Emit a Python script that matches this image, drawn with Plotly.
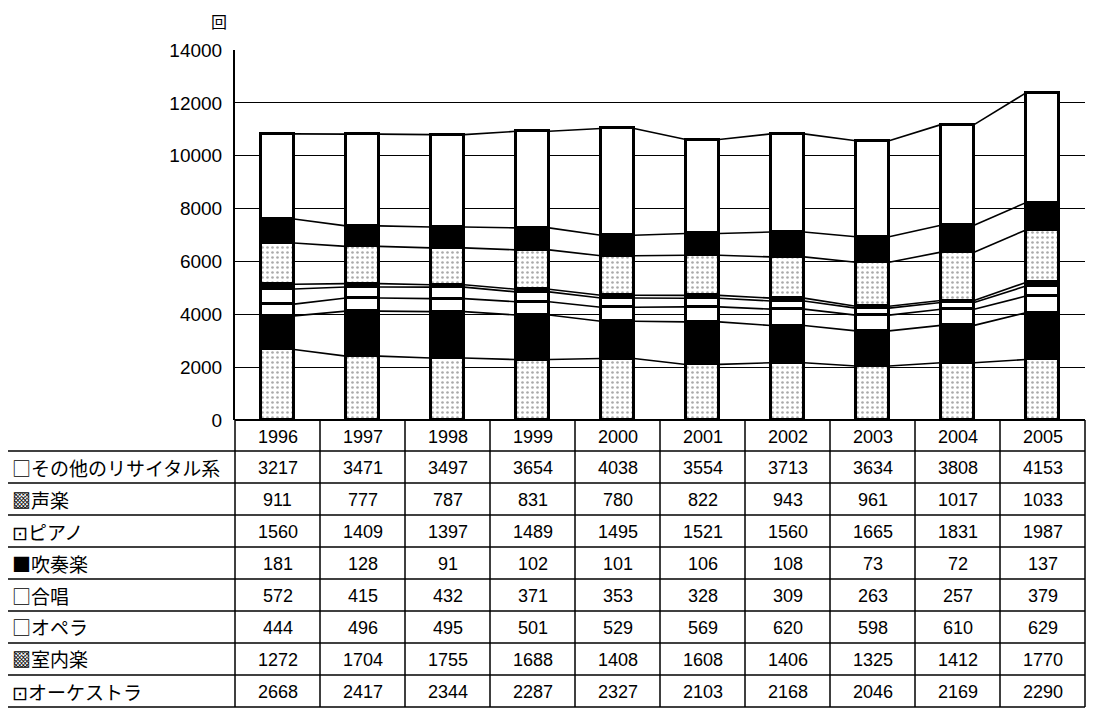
import plotly.graph_objects as go

years = ["1996", "1997", "1998", "1999", "2000", "2001", "2002", "2003", "2004", "2005"]

# series from bottom of stack to top
orchestra = [2668, 2417, 2344, 2287, 2327, 2103, 2168, 2046, 2169, 2290]
chamber   = [1272, 1704, 1755, 1688, 1408, 1608, 1406, 1325, 1412, 1770]
opera     = [444, 496, 495, 501, 529, 569, 620, 598, 610, 629]
chorus    = [572, 415, 432, 371, 353, 328, 309, 263, 257, 379]
brass     = [181, 128, 91, 102, 101, 106, 108, 73, 72, 137]
piano     = [1560, 1409, 1397, 1489, 1495, 1521, 1560, 1665, 1831, 1987]
vocal     = [911, 777, 787, 831, 780, 822, 943, 961, 1017, 1033]
recital   = [3217, 3471, 3497, 3654, 4038, 3554, 3713, 3634, 3808, 4153]

names = ["オーケストラ", "室内楽", "オペラ", "合唱", "吹奏楽", "ピアノ", "声楽", "その他のリサイタル系"]
keys  = ["⊡", "▩", "□", "□", "■", "⊡", "▩", "□"]
series = [orchestra, chamber, opera, chorus, brass, piano, vocal, recital]
styles = ["dot", "black", "white", "white", "black", "dot", "black", "white"]

y_ticks = [0, 2000, 4000, 6000, 8000, 10000, 12000, 14000]

# page body has an 8px default margin; work in window pixels and offset
OFF = 8
W, H = 1096 - OFF, 720 - OFF
L, R, T, B = 235, 1085, 50, 420   # window pixel coords of plot area
n = len(years)
bar_w = 0.39

def px(x):
    return (x - L) / (R - L)

def py(y):
    return (B - y) / (B - T)

fig = go.Figure()
xs = list(range(n))

for name, vals, st in zip(names, series, styles):
    if st == "dot":
        marker = dict(color="white", line=dict(color="black", width=2.8),
                      pattern=dict(shape=".", fgcolor="#555555", bgcolor="white",
                                   size=5, solidity=0.22))
    elif st == "black":
        marker = dict(color="black", line=dict(color="black", width=2.8))
    else:
        marker = dict(color="white", line=dict(color="black", width=2.8))
    fig.add_trace(go.Bar(x=xs, y=vals, name=name, width=bar_w, marker=marker,
                         showlegend=False, hoverinfo="y+name"))

# series lines connecting segment boundaries between neighbouring bars
cum = [0] * n
for vals in series:
    cum = [c + v for c, v in zip(cum, vals)]
    lx, ly = [], []
    for i in range(n - 1):
        lx += [i + bar_w / 2, i + 1 - bar_w / 2, None]
        ly += [cum[i], cum[i + 1], None]
    fig.add_trace(go.Scatter(x=lx, y=ly, mode="lines",
                             line=dict(color="black", width=1.6),
                             showlegend=False, hoverinfo="skip"))

fig.update_layout(
    width=W, height=H,
    margin=dict(l=L - OFF, r=W - (R - OFF), t=T - OFF, b=H - (B - OFF), autoexpand=False),
    barmode="stack", bargap=0,
    paper_bgcolor="white", plot_bgcolor="white",
    font=dict(family="Liberation Sans, Arial, sans-serif", color="black"),
)
fig.update_xaxes(range=[-0.5, n - 0.5], showticklabels=False, showgrid=False,
                 zeroline=False, showline=False, fixedrange=True)
fig.update_yaxes(range=[0, 14000], tickvals=y_ticks, ticktext=[str(v) for v in y_ticks],
                 showgrid=True, gridcolor="black", gridwidth=1.2,
                 showline=True, linecolor="black", linewidth=2,
                 ticks="", ticklabelstandoff=7, zeroline=False,
                 tickfont=dict(size=19, family="Liberation Sans, Arial, sans-serif"))

shapes = []
ann = []

def text_at(x, y, s, size=18, family=None, xanchor="center"):
    f = dict(size=size)
    if family:
        f["family"] = family
    ann.append(dict(x=px(x), y=py(y), xref="paper", yref="paper", text=s,
                    showarrow=False, xanchor=xanchor, yanchor="middle", font=f))

# unit label
text_at(219, 21, "回", size=16, family="Noto Sans CJK JP")

# table geometry
head_top, head_bot = 420, 451
row_h = 32
tab_left = 5
n_rows = len(series)
tab_bot = head_bot + row_h * n_rows
col_w = (R - L) / n

def hline(x0, x1, y, w=1.5):
    shapes.append(dict(type="line", xref="paper", yref="paper",
                       x0=px(x0), x1=px(x1), y0=py(y), y1=py(y),
                       line=dict(color="black", width=w)))

def vline(x, y0, y1, w=1.5):
    shapes.append(dict(type="line", xref="paper", yref="paper",
                       x0=px(x), x1=px(x), y0=py(y0), y1=py(y1),
                       line=dict(color="black", width=w)))

hline(L, R, head_top, 2)
for r in range(n_rows + 1):
    hline(tab_left, R, head_bot + r * row_h)
vline(tab_left, head_bot, tab_bot)
for k in range(n + 1):
    vline(L + k * col_w, head_top, tab_bot)

for i, yv in enumerate(years):
    text_at(L + (i + 0.5) * col_w, (head_top + head_bot) / 2 + 1, yv)

rows = list(zip(names, keys, series))[::-1]
for r, (name, key, vals) in enumerate(rows):
    yc = head_bot + (r + 0.5) * row_h
    text_at(10, yc, key + name, size=19, family="Noto Sans CJK JP", xanchor="left")
    for i, v in enumerate(vals):
        text_at(L + (i + 0.5) * col_w, yc + 1, str(v))

fig.update_layout(shapes=shapes, annotations=ann)
fig.write_html("out.html")
